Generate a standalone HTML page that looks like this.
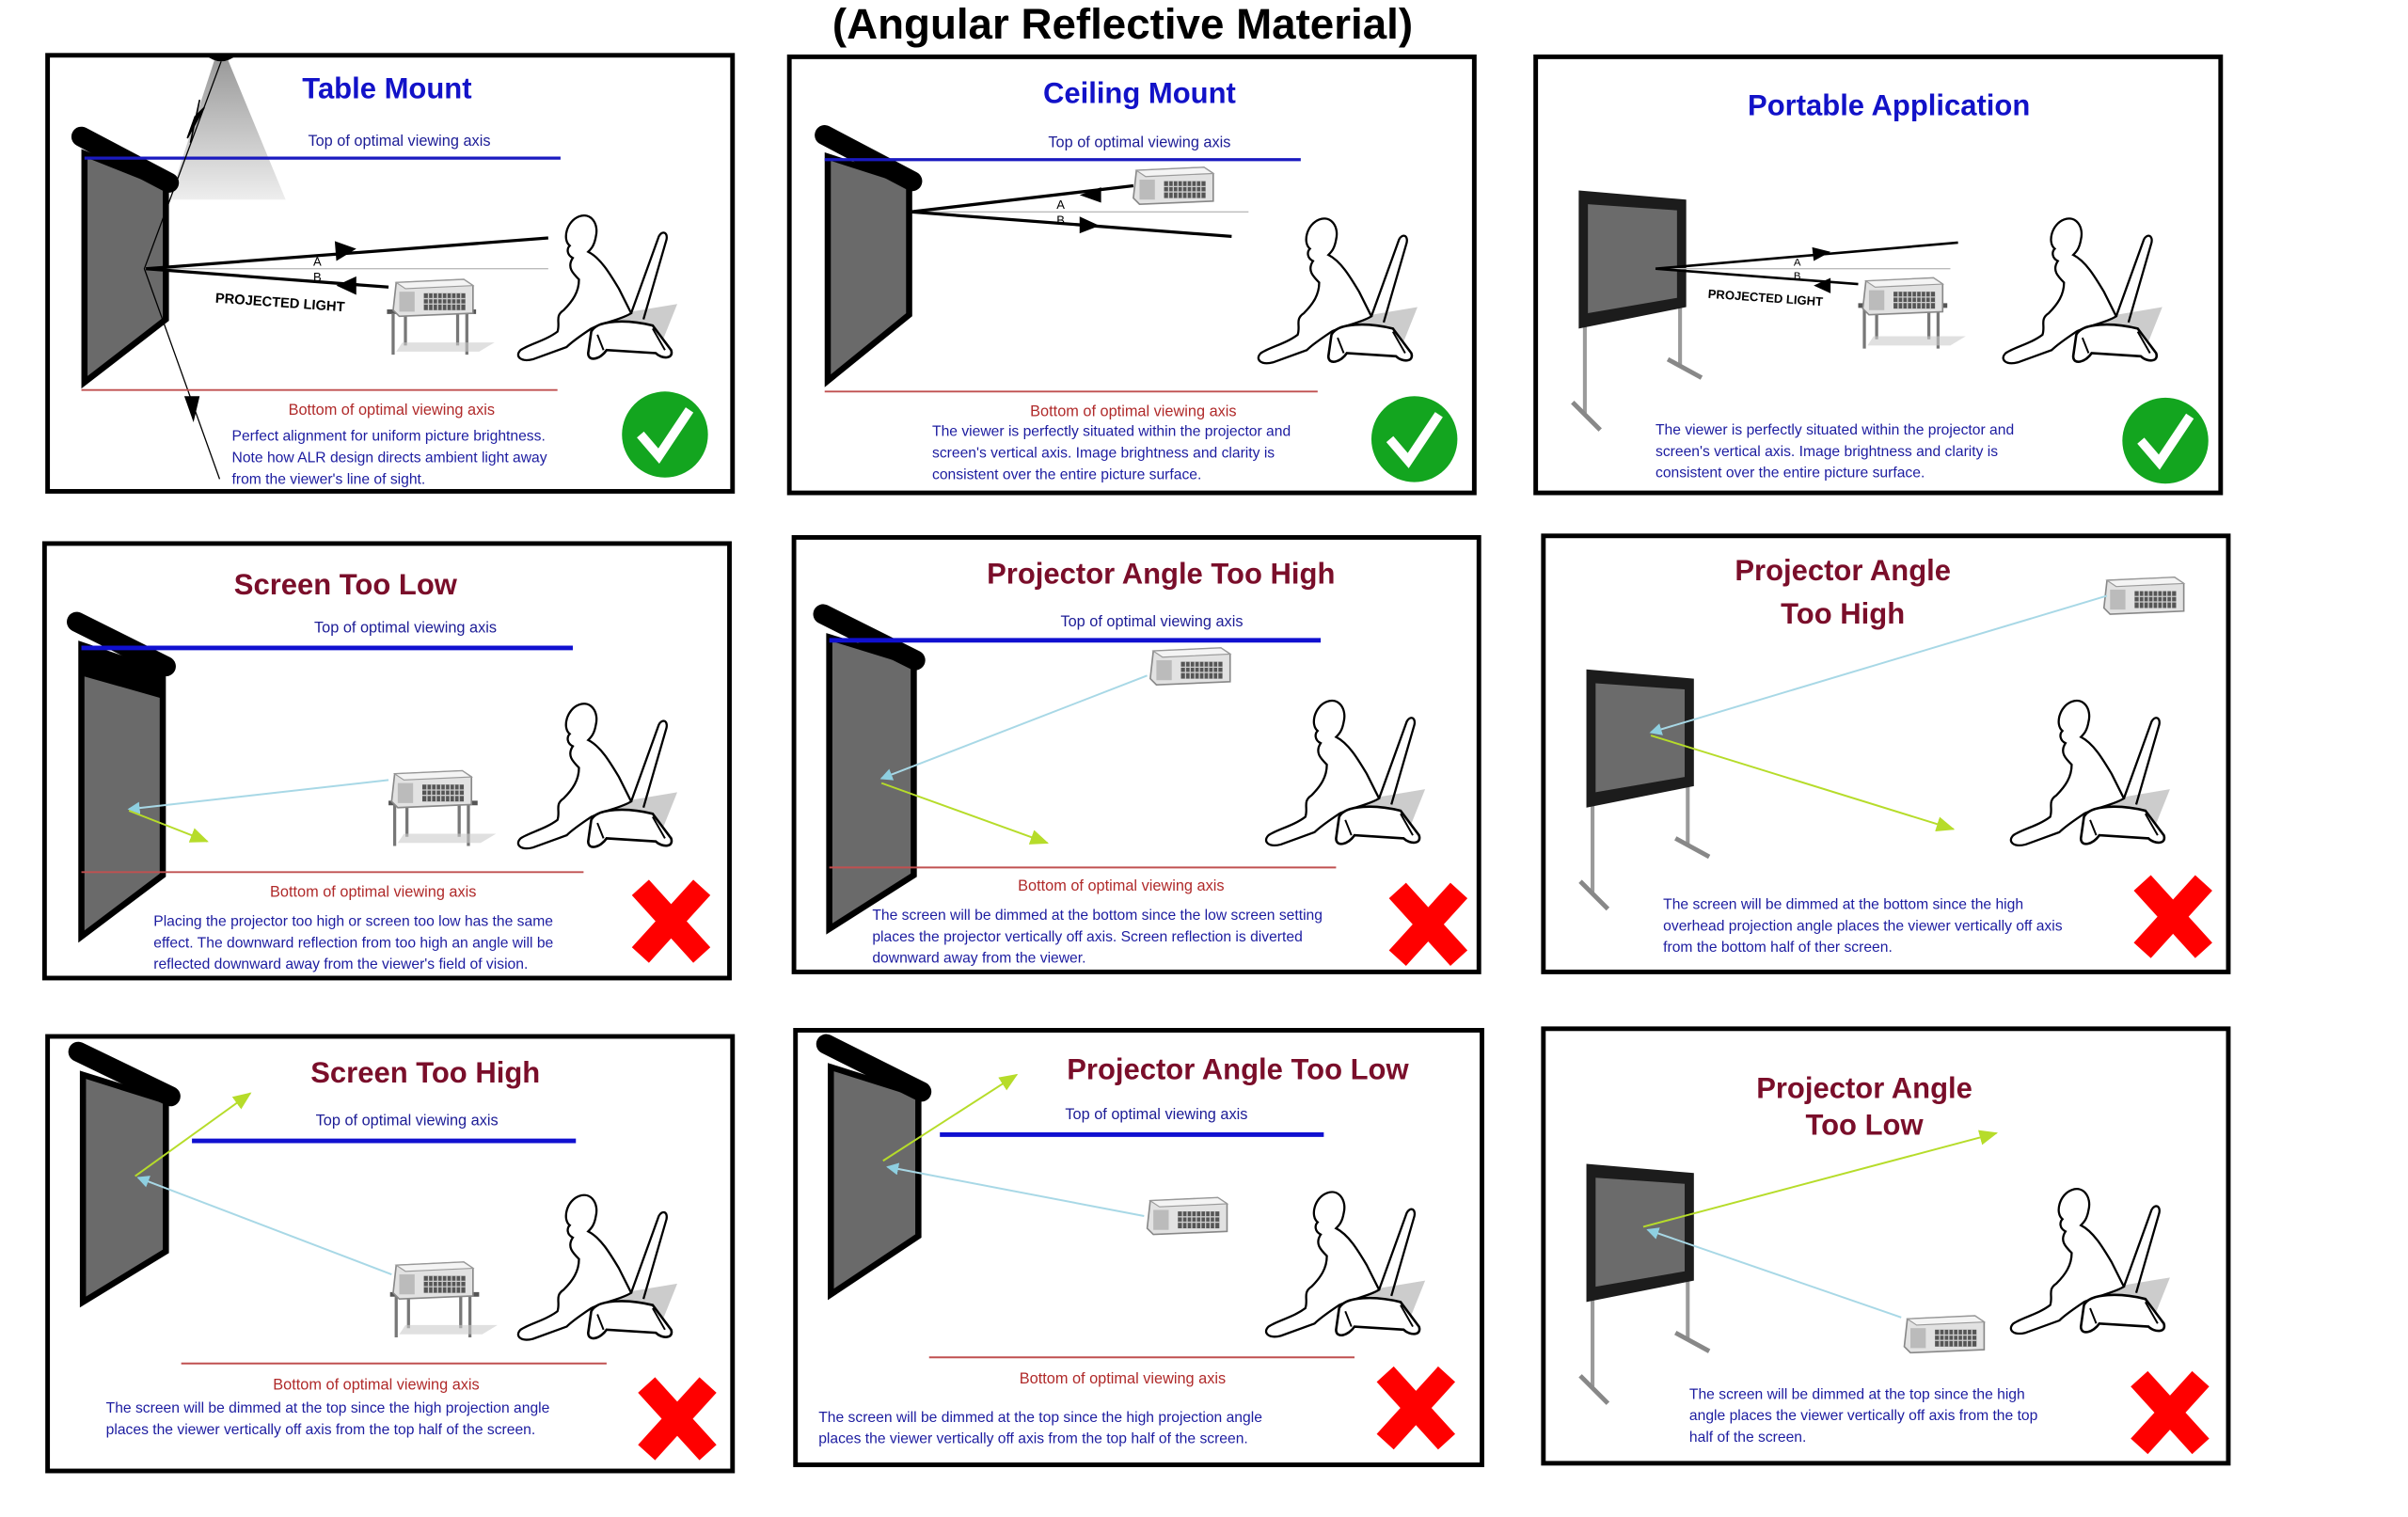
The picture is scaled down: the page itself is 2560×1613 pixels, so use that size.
<!DOCTYPE html>
<html><head><meta charset="utf-8"><style>
html,body{margin:0;padding:0;background:#fff;}
svg{display:block;}
text{font-family:"Liberation Sans",sans-serif;}
.t{font-weight:bold;font-size:19px;text-anchor:middle;}
.tb{fill:#1212c8;}
.tr{fill:#7a0e2a;}
.ax{font-size:10px;fill:#1c1c96;text-anchor:middle;}
.axr{font-size:10px;fill:#b02a2a;text-anchor:middle;}
.d{font-size:9.6px;fill:#1c1ca0;}
.box{fill:#fff;stroke:#000;stroke-width:3;}
</style></head><body>
<svg width="2560" height="1613" viewBox="0 0 1568 988" preserveAspectRatio="none" xmlns="http://www.w3.org/2000/svg">
<defs>
<linearGradient id="cone" x1="0" y1="0" x2="0" y2="1"><stop offset="0" stop-color="#999"/><stop offset="1" stop-color="#eee"/></linearGradient>
<symbol id="proj" overflow="visible">
<path d="M2,4 L46,2 L52,6 L52,24 L4,26 L0,22 Z" fill="#e2e2e2" stroke="#888" stroke-width="1"/>
<path d="M2,4 L46,2 L52,6 L8,8 Z" fill="#f4f4f4" stroke="#999" stroke-width="0.7"/>
<rect x="4" y="10" width="10" height="13" fill="#bbb"/>
<rect x="20" y="11" width="27" height="11" fill="#555"/>
<path d="M23,11V22M26,11V22M29,11V22M32,11V22M35,11V22M38,11V22M41,11V22M44,11V22M20,14.5H47M20,18H47" stroke="#ccc" stroke-width="0.8"/>
</symbol>
<symbol id="table" overflow="visible">
<path d="M0,0 H58" stroke="#555" stroke-width="3"/>
<path d="M4,1 V28 M52,1 V28 M12,1 V22 M46,1 V22" stroke="#777" stroke-width="2"/>
<path d="M10,20 L70,20 L60,26 L6,26Z" fill="#ccc" opacity="0.6"/>
</symbol>
<symbol id="person" overflow="visible">
<path d="M72,66 L108,60 L96,90 L60,90Z" fill="#ccc"/>
<path d="M38,22 C33,18 36,6 44,3 C52,0 57,8 55,16 C54,22 52,24 50,26 C58,30 64,40 70,50 L78,66 C72,70 60,72 52,76 C46,80 40,84 36,88 L14,96 C6,98 2,94 6,90 C12,86 22,84 30,78 C32,72 28,68 34,64 C40,58 44,52 44,44 C40,40 36,36 40,30 C36,28 36,24 38,22Z" fill="#fff" stroke="#000" stroke-width="1.4"/>
<path d="M78,66 L96,16 C98,12 102,13 101,18 L86,70" fill="none" stroke="#000" stroke-width="1.4"/>
<path d="M52,78 C56,70 76,70 92,74 L104,90 C106,96 98,96 94,92 L62,90 C58,96 50,98 50,92 Z" fill="#fff" stroke="#000" stroke-width="1.6"/>
<path d="M56,80 L60,90 M92,76 L100,90" stroke="#000" stroke-width="1.2"/>
</symbol>
<symbol id="port" overflow="visible">
<path d="M4,88 V145 M66,76 V115" stroke="#9a9a9a" stroke-width="2.5"/>
<path d="M-4,138 L14,156 M58,110 L80,122" stroke="#888" stroke-width="3"/>
<path d="M0,0 L70,6 L70,76 L0,90Z" fill="#1c1c1c"/>
<path d="M6,9 L64,13 L64,70 L6,80Z" fill="#6b6b6b"/>
</symbol>
<symbol id="check" overflow="visible">
<circle cx="0" cy="0" r="28" fill="#13a51f"/>
<path d="M-16,0 L-4,14 L16,-16" fill="none" stroke="#fff" stroke-width="6"/>
</symbol>
<symbol id="xx" overflow="visible">
<path d="M-20,-22 L20,22 M20,-22 L-20,22" stroke="#f00" stroke-width="15"/>
</symbol>
<marker id="ab" markerWidth="8" markerHeight="8" refX="7" refY="4" orient="auto" markerUnits="userSpaceOnUse"><path d="M0,0 L8,4 L0,8Z" fill="#8ecfe0"/></marker>
<marker id="ag" markerWidth="12" markerHeight="10" refX="11" refY="5" orient="auto" markerUnits="userSpaceOnUse"><path d="M0,0 L12,5 L0,10Z" fill="#b6dc2a"/></marker>
</defs>

<text x="731" y="25" style="font-weight:bold;font-size:28px;text-anchor:middle;">(Angular Reflective Material)</text>

<!-- P1 -->
<rect class="box" x="31" y="36" width="446" height="284"/>
<polygon points="140,38 148,38 186,130 110,130" fill="url(#cone)"/>
<path d="M134,36 Q144,44 154,36Z" fill="#000"/>
<path d="M55,100 L108,121 L108,208 L55,249Z" fill="#6a6a6a" stroke="#000" stroke-width="4"/>
<path d="M53,89 L110,119" stroke="#000" stroke-width="13" stroke-linecap="round"/>
<path d="M55,103 H365" stroke="#1a1ac0" stroke-width="2"/>
<text class="t tb" x="252" y="64">Table Mount</text>
<text class="ax" x="260" y="95">Top of optimal viewing axis</text>
<path d="M144,40 L94,175 L143,312" stroke="#000" stroke-width="0.8" fill="none"/>
<path d="M133,70 L122,90 L127,76Z M130,65 L124,93" stroke="#000" fill="#000" stroke-width="1"/>
<path d="M120,258 L126,275 L130,258Z" fill="#000"/>
<path d="M95,175 H357" stroke="#bbb" stroke-width="0.8"/>
<path d="M95,175 L357,155 M95,175 L253,187" stroke="#000" stroke-width="2"/>
<path d="M218,157 L232,162 L219,170Z M232,180 L219,186 L232,192Z" fill="#000"/>
<text x="204" y="173" style="font-size:8px">A</text><text x="204" y="183" style="font-size:8px">B</text>
<text x="140" y="197" transform="rotate(4 140 197)" style="font-size:9px;font-weight:bold">PROJECTED LIGHT</text>
<use href="#table" x="252" y="203"/>
<use href="#proj" x="256" y="180"/>
<use href="#person" x="333" y="138"/>
<path d="M53,254 H363" stroke="#c05050" stroke-width="1.2"/>
<text class="axr" x="255" y="270">Bottom of optimal viewing axis</text>
<text class="d" x="151" y="287">Perfect alignment for uniform picture brightness.</text>
<text class="d" x="151" y="301">Note how ALR design directs ambient light away</text>
<text class="d" x="151" y="315">from the viewer's line of sight.</text>
<use href="#check" x="433" y="283"/>

<!-- P2 -->
<rect class="box" x="514" y="37" width="446" height="284"/>
<path d="M539,102 L592,119 L592,205 L539,248Z" fill="#6a6a6a" stroke="#000" stroke-width="4"/>
<path d="M537,88 L594,118" stroke="#000" stroke-width="13" stroke-linecap="round"/>
<path d="M537,104 H847" stroke="#1a1ac0" stroke-width="2"/>
<text class="t tb" x="742" y="67">Ceiling Mount</text>
<text class="ax" x="742" y="96">Top of optimal viewing axis</text>
<use href="#proj" x="738" y="107"/>
<path d="M593,138 H813" stroke="#bbb" stroke-width="0.8"/>
<path d="M593,138 L738,121 M593,138 L802,154" stroke="#000" stroke-width="2"/>
<path d="M717,122 L703,127 L717,132Z M703,141 L716,147 L703,152Z" fill="#000"/>
<text x="688" y="136" style="font-size:8px">A</text><text x="688" y="146" style="font-size:8px">B</text>
<use href="#person" x="815" y="140"/>
<path d="M537,255 H858" stroke="#c05050" stroke-width="1.2"/>
<text class="axr" x="738" y="271">Bottom of optimal viewing axis</text>
<text class="d" x="607" y="284">The viewer is perfectly situated within the projector and</text>
<text class="d" x="607" y="298">screen's vertical axis. Image brightness and clarity is</text>
<text class="d" x="607" y="312">consistent over the entire picture surface.</text>
<use href="#check" x="921" y="286"/>

<!-- P3 -->
<rect class="box" x="1000" y="37" width="446" height="284"/>
<text class="t tb" x="1230" y="75">Portable Application</text>
<use href="#port" x="1028" y="124"/>
<path d="M1078,175 H1270" stroke="#bbb" stroke-width="0.8"/>
<path d="M1078,175 L1275,158 M1078,175 L1210,185" stroke="#000" stroke-width="1.6"/>
<path d="M1180,161 L1192,164 L1181,170Z M1192,181 L1181,186 L1192,191Z" fill="#000"/>
<text x="1168" y="173" style="font-size:7px">A</text><text x="1168" y="182" style="font-size:7px">B</text>
<text x="1112" y="194" transform="rotate(4 1112 194)" style="font-size:8px;font-weight:bold">PROJECTED LIGHT</text>
<use href="#table" x="1210" y="199"/>
<use href="#proj" x="1213" y="179"/>
<use href="#person" x="1300" y="140"/>
<text class="d" x="1078" y="283">The viewer is perfectly situated within the projector and</text>
<text class="d" x="1078" y="297">screen's vertical axis. Image brightness and clarity is</text>
<text class="d" x="1078" y="311">consistent over the entire picture surface.</text>
<use href="#check" x="1410" y="287"/>

<!-- P4 -->
<rect class="box" x="29" y="354" width="446" height="283"/>
<path d="M53,420 L106,438 L106,570 L53,610Z" fill="#6a6a6a" stroke="#000" stroke-width="4"/>
<path d="M53,421 L106,438 L106,455 L53,440Z" fill="#000"/>
<path d="M50,405 L108,434" stroke="#000" stroke-width="13" stroke-linecap="round"/>
<path d="M53,422 H373" stroke="#1010d0" stroke-width="3"/>
<text class="t tr" x="225" y="387">Screen  Too Low</text>
<text class="ax" x="264" y="412">Top of optimal viewing axis</text>
<path d="M253,508 L84,527" stroke="#a8d8e6" stroke-width="1.2" marker-end="url(#ab)"/>
<path d="M84,528 L135,548" stroke="#b6dc2a" stroke-width="1.2" marker-end="url(#ag)"/>
<use href="#table" x="253" y="523"/>
<use href="#proj" x="255" y="500"/>
<use href="#person" x="333" y="456"/>
<path d="M53,568 H380" stroke="#c05050" stroke-width="1.2"/>
<text class="axr" x="243" y="584">Bottom of optimal viewing axis</text>
<text class="d" x="100" y="603">Placing the projector too high or screen too low has the same</text>
<text class="d" x="100" y="617">effect. The downward reflection from too high an angle will be</text>
<text class="d" x="100" y="631">reflected downward away from the viewer's field of vision.</text>
<use href="#xx" x="437" y="600"/>

<!-- P5 -->
<rect class="box" x="517" y="350" width="446" height="283"/>
<path d="M540,415 L595,432 L595,570 L540,605Z" fill="#6a6a6a" stroke="#000" stroke-width="4"/>
<path d="M536,400 L596,430" stroke="#000" stroke-width="13" stroke-linecap="round"/>
<path d="M540,417 H860" stroke="#1010d0" stroke-width="3"/>
<text class="t tr" x="756" y="380">Projector Angle  Too High</text>
<text class="ax" x="750" y="408">Top of optimal viewing axis</text>
<use href="#proj" x="749" y="420"/>
<path d="M747,440 L574,507" stroke="#a8d8e6" stroke-width="1.2" marker-end="url(#ab)"/>
<path d="M574,510 L682,549" stroke="#b6dc2a" stroke-width="1.2" marker-end="url(#ag)"/>
<use href="#person" x="820" y="454"/>
<path d="M540,565 H870" stroke="#c05050" stroke-width="1.2"/>
<text class="axr" x="730" y="580">Bottom of optimal viewing axis</text>
<text class="d" x="568" y="599">The screen will be dimmed at the bottom since the low screen setting</text>
<text class="d" x="568" y="613">places the projector vertically off axis. Screen reflection is diverted</text>
<text class="d" x="568" y="627">downward away from the viewer.</text>
<use href="#xx" x="930" y="602"/>

<!-- P6 -->
<rect class="box" x="1005" y="349" width="446" height="284"/>
<text class="t tr" x="1200" y="378">Projector Angle</text>
<text class="t tr" x="1200" y="406">Too High</text>
<use href="#port" x="1033" y="436"/>
<use href="#proj" x="1370" y="374"/>
<path d="M1372,388 L1075,477" stroke="#a8d8e6" stroke-width="1.2" marker-end="url(#ab)"/>
<path d="M1075,479 L1272,540" stroke="#b6dc2a" stroke-width="1.2" marker-end="url(#ag)"/>
<use href="#person" x="1305" y="454"/>
<text class="d" x="1083" y="592">The screen will be dimmed at the bottom since the high</text>
<text class="d" x="1083" y="606">overhead projection angle places the viewer vertically off axis</text>
<text class="d" x="1083" y="620">from the bottom half of ther screen.</text>
<use href="#xx" x="1415" y="597"/>

<!-- P7 -->
<rect class="box" x="31" y="675" width="446" height="283"/>
<path d="M54,700 L108,717 L108,815 L54,848Z" fill="#6a6a6a" stroke="#000" stroke-width="4"/>
<path d="M51,685 L111,714" stroke="#000" stroke-width="13" stroke-linecap="round"/>
<path d="M125,743 H375" stroke="#1010d0" stroke-width="3"/>
<text class="t tr" x="277" y="705">Screen Too High</text>
<text class="ax" x="265" y="733">Top of optimal viewing axis</text>
<path d="M88,766 L163,712" stroke="#b6dc2a" stroke-width="1.2" marker-end="url(#ag)"/>
<path d="M255,830 L90,767" stroke="#a8d8e6" stroke-width="1.2" marker-end="url(#ab)"/>
<use href="#table" x="254" y="843"/>
<use href="#proj" x="256" y="820"/>
<use href="#person" x="333" y="776"/>
<path d="M118,888 H395" stroke="#c05050" stroke-width="1.2"/>
<text class="axr" x="245" y="905">Bottom of optimal viewing axis</text>
<text class="d" x="69" y="920">The screen will be dimmed at the top since the high projection angle</text>
<text class="d" x="69" y="934">places the viewer vertically off axis from the top half of the screen.</text>
<use href="#xx" x="441" y="924"/>

<!-- P8 -->
<rect class="box" x="518" y="671" width="447" height="283"/>
<path d="M541,695 L598,713 L598,805 L541,843Z" fill="#6a6a6a" stroke="#000" stroke-width="4"/>
<path d="M538,680 L600,711" stroke="#000" stroke-width="13" stroke-linecap="round"/>
<path d="M612,739 H862" stroke="#1010d0" stroke-width="3"/>
<text class="t tr" x="806" y="703">Projector  Angle Too Low</text>
<text class="ax" x="753" y="729">Top of optimal viewing axis</text>
<path d="M575,756 L662,700" stroke="#b6dc2a" stroke-width="1.2" marker-end="url(#ag)"/>
<path d="M745,792 L578,760" stroke="#a8d8e6" stroke-width="1.2" marker-end="url(#ab)"/>
<use href="#proj" x="747" y="778"/>
<use href="#person" x="820" y="774"/>
<path d="M605,884 H882" stroke="#c05050" stroke-width="1.2"/>
<text class="axr" x="731" y="901">Bottom of optimal viewing axis</text>
<text class="d" x="533" y="926">The screen will be dimmed at the top since the high projection angle</text>
<text class="d" x="533" y="940">places the viewer vertically off axis from the top half of the screen.</text>
<use href="#xx" x="922" y="917"/>

<!-- P9 -->
<rect class="box" x="1005" y="670" width="446" height="283"/>
<text class="t tr" x="1214" y="715">Projector Angle</text>
<text class="t tr" x="1214" y="739">Too Low</text>
<use href="#port" x="1033" y="758"/>
<path d="M1070,799 L1300,738" stroke="#b6dc2a" stroke-width="1.2" marker-end="url(#ag)"/>
<path d="M1238,858 L1073,801" stroke="#a8d8e6" stroke-width="1.2" marker-end="url(#ab)"/>
<use href="#proj" x="1240" y="855"/>
<use href="#person" x="1305" y="772"/>
<text class="d" x="1100" y="911">The screen will be dimmed at the top since the high</text>
<text class="d" x="1100" y="925">angle places the viewer vertically off axis from the top</text>
<text class="d" x="1100" y="939">half of the screen.</text>
<use href="#xx" x="1413" y="920"/>
</svg>
</body></html>
